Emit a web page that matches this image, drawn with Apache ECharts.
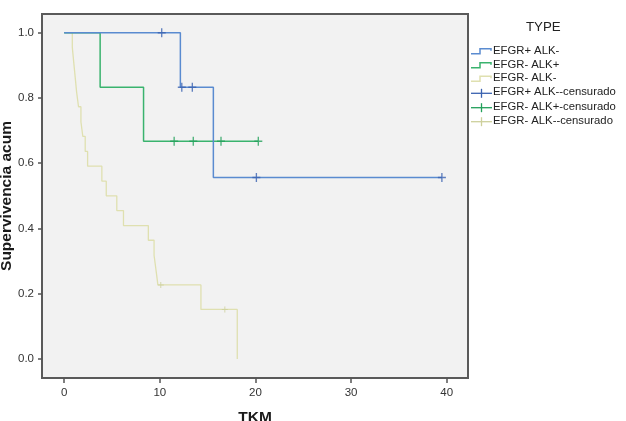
<!DOCTYPE html>
<html>
<head>
<meta charset="utf-8">
<script src="https://cdn.jsdelivr.net/npm/echarts@6.0.0/dist/echarts.min.js"></script>
<style>
html, body { margin: 0; padding: 0; background: #fff; }
#main { width: 626px; height: 421px; }
</style>
</head>
<body>
<div id="main"></div>
<script>
// curvas de supervivencia (tiempo, supervivencia acumulada)
var blueT = [0, 12.15, 15.6, 39.5];
var blueS = [1, 0.833, 0.556, 0.556];
var greenT = [0, 3.76, 8.3, 20.3];
var greenS = [1, 0.833, 0.667, 0.667];
var yellowT = [0, 0.85, 1.0, 1.15, 1.3, 1.5, 1.75, 1.95, 2.2, 2.45, 3.94, 4.4, 5.5, 6.2, 8.8, 9.4, 9.6, 9.8, 14.3, 18.1];
var yellowS = [1, 0.955, 0.909, 0.864, 0.818, 0.773, 0.727, 0.682, 0.636, 0.591, 0.545, 0.5, 0.455, 0.409, 0.364, 0.318, 0.273, 0.227, 0.152, 0];

// censurados
var blueCT = [10.2, 12.3, 13.4, 20.1, 39.5];
var blueCS = [1, 0.833, 0.833, 0.556, 0.556];
var greenCT = [11.5, 13.5, 16.4, 20.3];
var greenCS = [0.667, 0.667, 0.667, 0.667];
var yellowCT = [10.1, 16.8];
var yellowCS = [0.227, 0.152];

var xTicks = [0, 10, 20, 30, 40];
var yTicks = [0, 0.2, 0.4, 0.6, 0.8, 1.0];

var legendTitle = 'TYPE';
var legendNames = ['EFGR+ ALK-', 'EFGR- ALK+', 'EFGR- ALK-', 'EFGR+ ALK--censurado', 'EFGR- ALK+-censurado', 'EFGR- ALK--censurado'];

var lineColors = ['#5a8bd0', '#3ab36e', '#dfe0b0'];
var censColors = ['#3a62b0', '#22a05a', '#cdd09c'];
var FONT = 'Liberation Sans, Arial, sans-serif';
var plus = 'path://M3.75,0H5.25V3.75H9V5.25H5.25V9H3.75V5.25H0V3.75H3.75Z';

function pairs(t, s) {
	var out = [];
	for (var i = 0; i < t.length; i++) out.push([t[i], s[i]]);
	return out;
}

function stepSeries(name, t, s, color, width) {
	return {
		name: name, type: 'line', step: 'end', data: pairs(t, s),
		showSymbol: false, symbol: 'none',
		lineStyle: { color: color, width: width },
		z: 3
	};
}
function censSeries(name, t, s, color, size) {
	return {
		name: name, type: 'scatter', data: pairs(t, s),
		symbol: plus, symbolSize: size,
		itemStyle: { color: color },
		z: 4
	};
}

// leyenda dibujada a mano
var legendGraphics = [{
	type: 'text', left: 526, top: 21,
	style: { text: legendTitle, font: '13.3px ' + FONT, fill: '#222' }
}];
var rowY = [51.7, 65.7, 79.3, 93.3, 107.7, 121.7];
for (var i = 0; i < 6; i++) {
	var y = rowY[i];
	var c = i < 3 ? lineColors[i] : censColors[i - 3];
	if (i < 3) {
		legendGraphics.push({
			type: 'polyline', silent: true,
			shape: { points: [[471, y + 2], [480, y + 2], [480, y - 3], [491, y - 3], [491, y - 1]] },
			style: { stroke: c, lineWidth: 1.5, fill: null }
		});
	} else {
		legendGraphics.push({
			type: 'polyline', silent: true,
			shape: { points: [[471, y], [492, y]] },
			style: { stroke: c, lineWidth: 1.3, fill: null }
		});
		legendGraphics.push({
			type: 'polyline', silent: true,
			shape: { points: [[481.5, y - 4.5], [481.5, y + 4.5]] },
			style: { stroke: c, lineWidth: 1.3, fill: null }
		});
	}
	legendGraphics.push({
		type: 'text', left: 493, top: y - 6.5,
		style: { text: legendNames[i], font: '11.3px ' + FONT, fill: '#222' }
	});
}

var chart = echarts.init(document.getElementById('main'), null, { renderer: 'canvas' });
chart.setOption({
	animation: false,
	backgroundColor: '#fff',
	grid: {
		left: 42, right: 158, top: 14, bottom: 43,
		containLabel: false, outerBoundsMode: 'none',
		show: true, backgroundColor: '#f2f2f2', borderColor: '#5a5a5a', borderWidth: 2
	},
	xAxis: {
		type: 'value', min: -2.32, max: 42.23,
		name: 'TKM', nameLocation: 'middle', nameGap: 32,
		nameTextStyle: { fontFamily: FONT, fontWeight: 'bold', fontSize: 15.5, color: '#1a1a1a', verticalAlign: 'top' },
		splitLine: { show: false },
		axisLine: { show: false, onZero: false },
		axisTick: { show: true, inside: false, length: 5, customValues: xTicks, lineStyle: { color: '#555', width: 1.5 } },
		axisLabel: { customValues: xTicks, margin: 9, fontFamily: FONT, fontSize: 11.5, color: '#333' }
	},
	yAxis: {
		type: 'value', min: -0.0582, max: 1.0573,
		name: 'Supervivencia acum', nameLocation: 'middle', nameGap: 27, nameRotate: 90,
		nameMoveOverlap: false,
		nameTextStyle: { fontFamily: FONT, fontWeight: 'bold', fontSize: 15.5, color: '#1a1a1a' },
		splitLine: { show: false },
		axisLine: { show: false, onZero: false },
		axisTick: { show: true, inside: false, length: 4, customValues: yTicks, lineStyle: { color: '#555', width: 1.5 } },
		axisLabel: {
			customValues: yTicks, margin: 8, fontFamily: FONT, fontSize: 11.5, color: '#333',
			formatter: function (v) { return v.toFixed(1); }
		}
	},
	graphic: legendGraphics,
	series: [
		stepSeries(legendNames[2], yellowT, yellowS, lineColors[2], 1.3),
		stepSeries(legendNames[1], greenT, greenS, lineColors[1], 1.5),
		stepSeries(legendNames[0], blueT, blueS, lineColors[0], 1.5),
		censSeries(legendNames[3], blueCT, blueCS, censColors[0], [8, 9]),
		censSeries(legendNames[4], greenCT, greenCS, censColors[1], [8, 9]),
		censSeries(legendNames[5], yellowCT, yellowCS, censColors[2], [6, 6])
	]
});
</script>
</body>
</html>
